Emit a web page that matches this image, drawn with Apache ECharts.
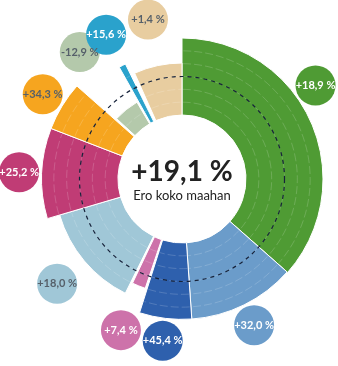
<!DOCTYPE html>
<html>
<head>
<meta charset="utf-8">
<script src="https://cdn.jsdelivr.net/npm/echarts@6/dist/echarts.min.js"></script>
<style>html,body{margin:0;padding:0;background:#fff}#c{width:338px;height:366px}</style>
</head>
<body>
<div id="c"></div>
<script>
// ---- data ----
const changeLabels = ['+18,9 %', '+32,0 %', '+45,4 %', '+7,4 %', '+18,0 %', '+25,2 %', '+34,3 %', '-12,9 %', '+15,6 %', '+1,4 %'];
const changeValues = [18.9, 32.0, 45.4, 7.4, 18.0, 25.2, 34.3, -12.9, 15.6, 1.4];
const angleStart  = [0, 131.5, 176, 198.6, 206.4, 253.6, 291.1, 312.7, 330.7, 335.9];
const angleEnd    = [131.5, 176, 197.6, 205.4, 253.6, 291.1, 311.5, 329.6, 333.8, 360];
const radiusValues = [6, 5.95, 5.95, 4, 4.95, 5.95, 5.95, 1.95, 5, 4.05];
const referenceRadius = 3;
const totalLabel = '+19,1 %';
const totalSubLabel = 'Ero koko maahan';

// ---- styles ----
const colors = ['#4f9b34', '#6b9cca', '#2e60ad', '#cd72aa', '#a0c7d7', '#c03c75', '#f6a51f', '#b4c9ab', '#2aa2cc', '#e8cda0'];
const labelTextColors = ['#fff', '#fff', '#fff', '#fff', '#56606a', '#fff', '#56606a', '#56606a', '#fff', '#56606a'];
const labelAngleOverride = {0: 55};
const CX = 182, CY = 179;
const FONT = 'Lato, "Open Sans", sans-serif';

const chart = echarts.init(document.getElementById('c'), null, {renderer: 'canvas'});

function canvasAngle(p, cx, cy) { return Math.atan2(p[1] - cy, p[0] - cx); }

const sectorData = radiusValues.map((r, i) => [r, angleStart[i], angleEnd[i], i]);

function renderSector(params, api) {
  const cs = params.coordSys;
  const cx = cs.cx, cy = cs.cy;
  const rv = api.value(0), a0 = api.value(1), a1 = api.value(2), idx = api.value(3);
  const p0 = api.coord([rv, a0]);
  const p1 = api.coord([rv, a1]);
  let s = canvasAngle(p0, cx, cy), e = canvasAngle(p1, cx, cy);
  while (e <= s) e += Math.PI * 2;
  const rOut = Math.hypot(p0[0] - cx, p0[1] - cy);
  const pin = api.coord([0, a0]);
  const rIn = Math.hypot(pin[0] - cx, pin[1] - cy);
  const children = [{
    type: 'sector',
    shape: {cx, cy, r0: rIn, r: rOut, startAngle: s, endAngle: e, clockwise: true},
    style: {fill: colors[idx], stroke: '#fff', lineWidth: 1}
  }];
  for (let k = 1; k < rv - 0.2; k++) {
    const pk = api.coord([k, a0]);
    const rk = Math.hypot(pk[0] - cx, pk[1] - cy);
    children.push({
      type: 'arc',
      shape: {cx, cy, r: rk, startAngle: s + 0.01, endAngle: e - 0.01, clockwise: true},
      style: {fill: null, stroke: 'rgba(255,255,255,0.17)', lineWidth: 1, lineDash: [8, 3]}
    });
  }
  // label bubble
  const la = labelAngleOverride[idx] !== undefined ? labelAngleOverride[idx] : (a0 + a1) / 2;
  const pMax = api.coord([6, la]);
  const ang = canvasAngle(pMax, cx, cy);
  const dist = Math.hypot(pMax[0] - cx, pMax[1] - cy) + 22;
  const lx = cx + dist * Math.cos(ang), ly = cy + dist * Math.sin(ang);
  children.push({
    type: 'circle',
    shape: {cx: lx, cy: ly, r: 20},
    style: {fill: colors[idx]},
    z2: 5
  });
  children.push({
    type: 'text',
    x: lx, y: ly,
    style: {text: changeLabels[idx], fill: labelTextColors[idx], font: 'bold 11px ' + FONT, align: 'center', verticalAlign: 'middle'},
    z2: 6
  });
  return {type: 'group', children};
}

function renderRef(params, api) {
  const cs = params.coordSys;
  const p = api.coord([api.value(0), 0]);
  const r = Math.hypot(p[0] - cs.cx, p[1] - cs.cy);
  return {
    type: 'circle',
    shape: {cx: cs.cx, cy: cs.cy, r},
    style: {fill: null, stroke: '#16223a', lineWidth: 1.2, lineDash: [4, 4]}
  };
}

chart.setOption({
  animation: false,
  polar: {center: [CX, CY], radius: [64, 141]},
  angleAxis: {type: 'value', min: 0, max: 360, startAngle: 90, clockwise: true, show: false},
  radiusAxis: {type: 'value', min: 0, max: 6, show: false},
  series: [
    {type: 'custom', coordinateSystem: 'polar', renderItem: renderSector, data: sectorData, z: 2},
    {type: 'custom', coordinateSystem: 'polar', renderItem: renderRef, data: [[referenceRadius, 0]], z: 3, silent: true}
  ],
  graphic: [
    {type: 'text', x: CX, y: CY - 7, style: {text: totalLabel, font: 'bold 28px ' + FONT, fill: '#222', align: 'center', verticalAlign: 'middle'}},
    {type: 'text', x: CX, y: CY + 17, style: {text: totalSubLabel, font: '13px ' + FONT, fill: '#222', align: 'center', verticalAlign: 'middle'}}
  ]
});
</script>
</body>
</html>
